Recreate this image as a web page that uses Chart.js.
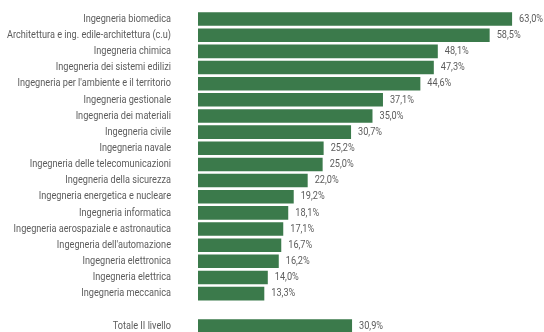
<!DOCTYPE html>
<html>
<head>
<meta charset="utf-8">
<script src="https://cdn.jsdelivr.net/npm/chart.js@4"></script>
<style>
  html, body { margin: 0; padding: 0; background: #fff; overflow: hidden; height: 332px; }
  canvas { display: block; }
</style>
</head>
<body>
<canvas id="myChart_corsi" width="544" height="334"></canvas>
<script>
// categorie (riga vuota prima del totale)
var categories = [
    'Ingegneria biomedica',
    'Architettura e ing. edile-architettura (c.u)',
    'Ingegneria chimica',
    'Ingegneria dei sistemi edilizi',
    "Ingegneria per l'ambiente e il territorio",
    'Ingegneria gestionale',
    'Ingegneria dei materiali',
    'Ingegneria civile',
    'Ingegneria navale',
    'Ingegneria delle telecomunicazioni',
    'Ingegneria della sicurezza',
    'Ingegneria energetica e nucleare',
    'Ingegneria informatica',
    'Ingegneria aerospaziale e astronautica',
    "Ingegneria dell'automazione",
    'Ingegneria elettronica',
    'Ingegneria elettrica',
    'Ingegneria meccanica',
    '',
    'Totale II livello'
];
var values = [63.0, 58.5, 48.1, 47.3, 44.6, 37.1, 35.0, 30.7, 25.2, 25.0,
              22.0, 19.2, 18.1, 17.1, 16.7, 16.2, 14.0, 13.3, null, 30.9];

var fontFam = "'Roboto', sans-serif";

// testo "condensato": scala orizzontale
function drawNarrow(ctx, txt, x, y, align, sx){
    ctx.save();
    ctx.translate(x, y);
    ctx.scale(sx, 1);
    ctx.textAlign = align;
    ctx.fillText(txt, 0, 0);
    ctx.restore();
}

// etichette categorie e valori
var labelsPlugin = {
    id: 'labelsPlugin',
    afterDatasetsDraw: function(chart){
        var ctx = chart.ctx;
        var meta = chart.getDatasetMeta(0);
        var yScale = chart.scales.y;
        ctx.save();
        ctx.font = '11px ' + fontFam;
        ctx.fillStyle = '#5c5c5c';
        ctx.textBaseline = 'middle';
        var sx = 164 / ctx.measureText(categories[1]).width;
        categories.forEach(function(c, i){
            drawNarrow(ctx, c, 171, yScale.getPixelForValue(i), 'right', sx);
        });
        meta.data.forEach(function(bar, i){
            if (values[i] == null) return;
            var txt = values[i].toFixed(1).replace('.', ',') + '%';
            drawNarrow(ctx, txt, bar.x + 7, bar.y, 'left', sx);
        });
        ctx.restore();
    }
};

var el = document.getElementById('myChart_corsi');
var myChart = new Chart(el, {
    type: 'bar',
    data: {
        labels: categories,
        datasets: [{
            data: values,
            backgroundColor: '#3b7a4b',
            borderWidth: 0,
            barPercentage: 0.84,
            categoryPercentage: 1
        }]
    },
    options: {
        responsive: false,
        indexAxis: 'y',
        animation: false,
        layout: { padding: { top: 11, right: 0, bottom: 0, left: 0 } },
        plugins: {
            legend: { display: false },
            tooltip: { enabled: false }
        },
        scales: {
            x: {
                display: false,
                min: 0,
                max: 69.4
            },
            y: {
                grid: { display: false, drawTicks: false },
                border: { display: false },
                afterFit: function(scale){ scale.width = 198; },
                ticks: { display: false }
            }
        }
    },
    plugins: [labelsPlugin]
});
</script>
</body>
</html>
